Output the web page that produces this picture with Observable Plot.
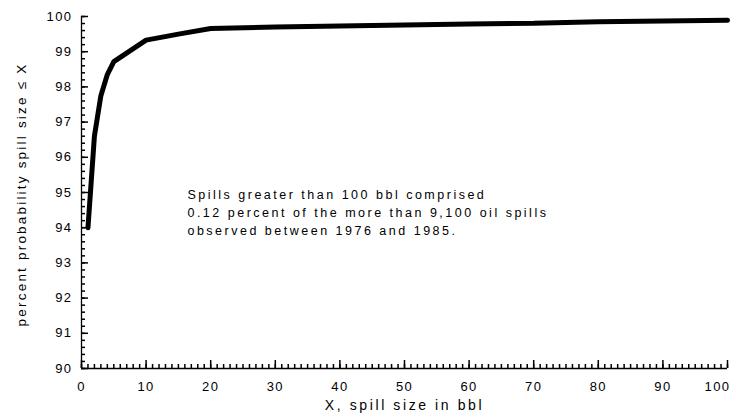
<!DOCTYPE html>
<html>
<head>
<meta charset="utf-8">
<script src="https://cdn.jsdelivr.net/npm/d3@7"></script>
<script src="https://cdn.jsdelivr.net/npm/@observablehq/plot@0.6"></script>
<style>
  html, body { margin: 0; padding: 0; background: #fff; }
  g[aria-label="y-axis tick label"] text,
  g[aria-label="x-axis tick label"] text { letter-spacing: 1.4px; }
  g.note text { letter-spacing: 2.5px; }
  g.xtitle text { letter-spacing: 2.6px; }
  g.ytitle text { letter-spacing: 2.2px; }
</style>
</head>
<body>
<div id="chart"></div>
<script>
// Spill size (bbl) and cumulative probability (%)
const spillSize = [1, 2, 3, 4, 5, 10, 15, 20, 30, 40, 50, 60, 70, 80, 90, 100];
const probability = [94.0, 96.6, 97.75, 98.35, 98.72, 99.33, 99.5, 99.66, 99.70, 99.73, 99.76, 99.79, 99.81, 99.85, 99.87, 99.89];

const xMajorTicks = [0, 10, 20, 30, 40, 50, 60, 70, 80, 90, 100];
const xMinorTicks = d3.range(0, 101, 1);
const yMajorTicks = [90, 91, 92, 93, 94, 95, 96, 97, 98, 99, 100];
const yMinorTicks = d3.range(900, 1001, 2).map(v => v / 10);

const xTitle = "X, spill size in bbl";
const yTitle = "percent probability spill size ≤ X";
const noteLines = [
  "Spills greater than 100 bbl comprised",
  "0.12 percent of the more than 9,100 oil spills",
  "observed between 1976 and 1985."
];
const noteX = 16.4;
const noteY = [94.93, 94.42, 93.91];

const data = spillSize.map((x, i) => ({x, y: probability[i]}));
const notes = noteLines.map((t, i) => ({t, x: noteX, y: noteY[i]}));

const font = "Liberation Sans, Arial, sans-serif";
const ink = "#000";
const W = 736, H = 419, mL = 81, mR = 9, mT = 16, mB = 51;
const frameW = W - mL - mR, frameH = H - mT - mB;

const chart = Plot.plot({
  width: W,
  height: H,
  marginLeft: mL,
  marginRight: mR,
  marginTop: mT,
  marginBottom: mB,
  style: {fontFamily: font, fontSize: "13px"},
  x: {domain: [0, 100]},
  y: {domain: [90, 100]},
  marks: [
    // tick labels
    Plot.axisY({ticks: yMajorTicks, tickSize: 0, tickPadding: 9, tickFormat: d => String(d), label: null, fontSize: 13, fill: ink}),
    Plot.axisX({ticks: xMajorTicks.slice(0, -1), tickSize: 0, tickPadding: 13, tickFormat: d => String(d), label: null, fontSize: 13, fill: ink}),
    Plot.axisX({ticks: xMajorTicks.slice(-1), tickSize: 0, tickPadding: 13, tickFormat: d => String(d), label: null, fontSize: 13, fill: ink, dx: -10}),
    // axis lines
    Plot.ruleX([0], {stroke: ink, strokeWidth: 1.3}),
    Plot.ruleY([90], {stroke: ink, strokeWidth: 1.3}),
    // data line
    Plot.line(data, {x: "x", y: "y", stroke: "#000", strokeWidth: 5, strokeLinejoin: "miter"}),
    // inward ticks (drawn on top)
    Plot.tickY(yMajorTicks, {y: d => d, insetRight: frameW - 7, stroke: ink, strokeWidth: 1.5}),
    Plot.tickY(yMinorTicks, {y: d => d, insetRight: frameW - 4, stroke: ink, strokeWidth: 1.5}),
    Plot.tickX(xMajorTicks, {x: d => d, insetTop: frameH - 8, stroke: ink, strokeWidth: 1.5}),
    Plot.tickX(xMinorTicks, {x: d => d, insetTop: frameH - 4, stroke: ink, strokeWidth: 1.5}),
    // annotation
    Plot.text(notes, {x: "x", y: "y", text: "t", textAnchor: "start", fontSize: 12.5, fill: ink, className: "note"}),
    // axis titles
    Plot.text([xTitle], {frameAnchor: "bottom", dy: 41, fontSize: 14, fill: ink, className: "xtitle"}),
    Plot.text([yTitle], {frameAnchor: "left", textAnchor: "middle", dx: -60, dy: 2, rotate: -90, fontSize: 13.5, fill: ink, className: "ytitle"})
  ]
});
document.getElementById("chart").appendChild(chart);
</script>
</body>
</html>
